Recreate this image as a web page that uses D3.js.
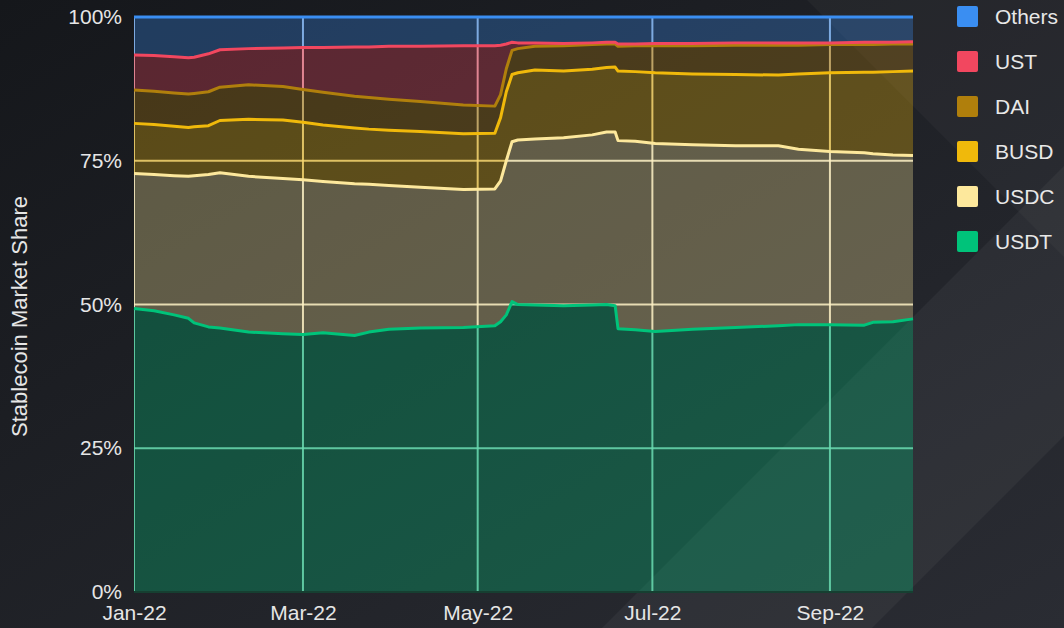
<!DOCTYPE html>
<html>
<head>
<meta charset="utf-8">
<script src="https://cdn.jsdelivr.net/npm/d3@7"></script>
<style>
  html, body { margin: 0; padding: 0; background: #191b20; }
  svg { display: block; font-family: "Liberation Sans", Arial, sans-serif; }
</style>
</head>
<body>
<div id="chart"></div>
<script>
// dates of the samples
const dates = ["2022-01-01","2022-01-08","2022-01-15","2022-01-20","2022-01-22","2022-01-27","2022-01-31",
  "2022-02-10","2022-02-22","2022-03-01","2022-03-08","2022-03-19","2022-03-24","2022-03-31","2022-04-11",
  "2022-04-26","2022-05-07","2022-05-09","2022-05-11","2022-05-13","2022-05-15","2022-05-21","2022-05-31",
  "2022-06-10","2022-06-15","2022-06-18","2022-06-19","2022-06-25","2022-07-02","2022-07-15","2022-07-30",
  "2022-08-14","2022-08-21","2022-09-01","2022-09-13","2022-09-16","2022-09-23","2022-09-30"];

// market share per coin, in %
const usdt = [49.3,48.9,48.2,47.6,46.8,46.1,45.9,45.2,44.9,44.8,45.1,44.6,45.2,45.7,45.9,46.0,46.3,47.0,48.2,50.5,
  50.0,49.9,49.8,49.9,50.0,49.8,45.8,45.6,45.3,45.7,46.0,46.3,46.5,46.5,46.4,46.9,47.0,47.5];
const usdc = [23.5,23.7,24.2,24.7,25.6,26.5,27.0,27.1,27.0,26.9,26.3,26.4,25.7,25.0,24.5,24.0,23.8,24.5,26.8,27.8,
  28.6,28.9,29.2,29.6,30.0,30.2,32.7,32.8,32.7,32.1,31.6,31.3,30.5,30.1,30.0,29.3,29.0,28.4];
const busd = [8.7,8.7,8.6,8.5,8.5,8.5,9.1,9.9,10.2,10.0,9.8,9.7,9.6,9.6,9.7,9.7,9.7,11.0,12.0,11.7,
  11.7,12.0,11.6,11.4,11.2,11.3,12.1,12.1,12.3,12.3,12.4,12.3,13.1,13.7,14.0,14.2,14.5,14.7];
const dai = [5.8,5.8,5.8,5.8,5.8,5.9,5.8,6.0,5.8,5.7,5.7,5.5,5.5,5.4,5.2,5.0,4.7,4.0,4.0,4.2,
  4.2,4.1,4.4,4.3,4.1,4.0,4.3,4.5,4.7,4.9,5.1,5.2,5.0,4.9,4.8,4.8,4.8,4.7];
const ust = [6.1,6.2,6.3,6.3,6.3,6.6,6.5,6.3,6.7,7.3,7.8,8.6,8.8,9.2,9.6,10.3,10.5,8.6,4.3,1.4,
  1.0,0.6,0.4,0.3,0.3,0.3,0.4,0.3,0.4,0.4,0.4,0.4,0.4,0.3,0.4,0.4,0.3,0.4];
const others = [6.6,6.7,6.9,7.1,7.0,6.4,5.7,5.5,5.4,5.3,5.3,5.2,5.2,5.1,5.1,5.0,5.0,4.9,4.7,4.4,
  4.5,4.5,4.6,4.5,4.4,4.4,4.7,4.7,4.6,4.6,4.5,4.5,4.5,4.5,4.4,4.4,4.4,4.3];

const coins = ["USDT","USDC","BUSD","DAI","UST","Others"];
const colors = ["#00c37a","#fde89c","#f0b90b","#b07f0c","#f2475f","#3a8ef2"];
const yTicks = [0,25,50,75,100];
const xTicks = ["2022-01-01","2022-03-01","2022-05-01","2022-07-01","2022-09-01"];

const W = 1064, H = 628;
const margin = {top:17, right:151, bottom:36, left:134};
const width = W - margin.left - margin.right, height = H - margin.top - margin.bottom;

const parse = d3.timeParse("%Y-%m-%d");
const series = [usdt, usdc, busd, dai, ust, others];
const rows = dates.map((d, i) => {
    const r = {date: parse(d)};
    coins.forEach((c, j) => r[c] = series[j][i]);
    return r;
});

const svg = d3.select("#chart").append("svg").attr("width", W).attr("height", H);

//background with the diagonal panels
const defs = svg.append("defs");
const grad = defs.append("linearGradient").attr("id","bg").attr("x1",0).attr("y1",0).attr("x2",1).attr("y2",1);
grad.append("stop").attr("offset","0%").attr("stop-color","#15171b");
grad.append("stop").attr("offset","100%").attr("stop-color","#2a2c33");
svg.append("rect").attr("width", W).attr("height", H).attr("fill","url(#bg)");
svg.append("polygon").attr("points","807,0 1064,0 1064,257").attr("fill","#fff").attr("opacity",0.03);
svg.append("polygon").attr("points","602,628 1064,166 1064,436 872,628").attr("fill","#fff").attr("opacity",0.045);

const g = svg.append("g").attr("transform", `translate(${margin.left},${margin.top})`);

const x = d3.scaleTime().domain([parse("2022-01-01"), parse("2022-09-30")]).range([0, width]);
const y = d3.scaleLinear().domain([0, 100]).range([height, 0]);

const stack = d3.stack().keys(coins)(rows);

const area = d3.area()
    .x(d => x(d.data.date))
    .y0(d => y(d[0]))
    .y1(d => y(d[1]));

const line = d3.line()
    .x(d => x(d.data.date))
    .y(d => y(d[1]));

g.selectAll(".area").data(stack).enter().append("path")
    .attr("class","area")
    .attr("d", area)
    .attr("fill", (d, i) => colors[i])
    .attr("fill-opacity", 0.31);

//grid, tinted by the band it crosses
stack.forEach((s, i) => {
    defs.append("clipPath").attr("id", "clip" + i)
        .append("path").attr("d", area(s));
    const gc = d3.interpolateRgb(colors[i], "#ffffff")(0.42);
    const grid = g.append("g").attr("clip-path", `url(#clip${i})`)
        .attr("stroke", gc).attr("stroke-opacity", 0.85).attr("stroke-width", 2);
    grid.selectAll(".h").data(yTicks.filter(t => t > 0)).enter().append("line")
        .attr("x1", 0).attr("x2", width)
        .attr("y1", d => y(d)).attr("y2", d => y(d));
    grid.selectAll(".v").data(xTicks).enter().append("line")
        .attr("x1", d => x(parse(d))).attr("x2", d => x(parse(d)))
        .attr("y1", -2).attr("y2", height + 2);
});
// dark base line at 0%
g.append("line").attr("x1", 0).attr("x2", width).attr("y1", y(0)).attr("y2", y(0))
    .attr("stroke", "#163f31").attr("stroke-width", 2);

g.selectAll(".line").data(stack).enter().append("path")
    .attr("class","line")
    .attr("d", line)
    .attr("fill","none")
    .attr("stroke", (d, i) => colors[i])
    .attr("stroke-width", 3)
    .attr("stroke-linejoin","round");

//axes
const xAxis = g.append("g")
    .attr("transform", `translate(0,${height})`)
    .call(d3.axisBottom(x).tickValues(xTicks.map(parse)).tickFormat(d3.timeFormat("%b-%y")).tickSize(0).tickPadding(13));
xAxis.select(".domain").remove();
xAxis.selectAll("text").attr("fill","#e6e6e6").attr("font-size","21px").attr("font-family","Liberation Sans, Arial, sans-serif");

const yAxis = g.append("g")
    .call(d3.axisLeft(y).tickValues(yTicks).tickFormat(d => d + "%").tickSize(0).tickPadding(12));
yAxis.select(".domain").remove();
yAxis.selectAll("text").attr("fill","#e6e6e6").attr("font-size","21px").attr("font-family","Liberation Sans, Arial, sans-serif");

svg.append("text")
    .attr("transform", `translate(27,${margin.top + height/2 + 12}) rotate(-90)`)
    .attr("text-anchor","middle")
    .attr("fill","#e6e6e6")
    .attr("font-size","22px")
    .text("Stablecoin Market Share");

//legend, top to bottom
const legend = svg.append("g").attr("transform","translate(957,6)");
const legendItems = coins.slice().reverse();
legendItems.forEach((c, i) => {
    legend.append("rect")
        .attr("x", 0).attr("y", i*45)
        .attr("width", 21).attr("height", 21).attr("rx", 2)
        .attr("fill", colors[coins.indexOf(c)]);
    legend.append("text")
        .attr("x", 38).attr("y", i*45 + 18)
        .attr("fill","#e8e8e8")
        .attr("font-size","21px")
        .text(c);
});
</script>
</body>
</html>
